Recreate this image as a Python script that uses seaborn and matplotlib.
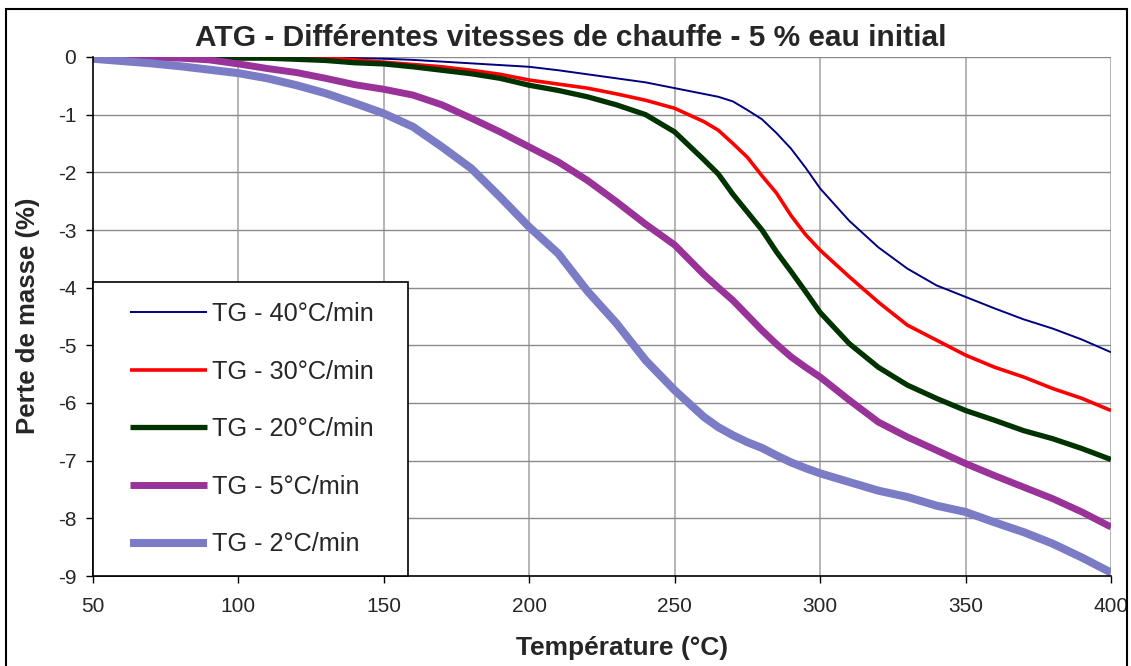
import numpy as np
import pandas as pd
import matplotlib
matplotlib.use("Agg")
import matplotlib.pyplot as plt
from matplotlib.patches import Rectangle
import seaborn as sns

# temperature grid (°C), finer around the knee
temperature = [50, 60, 70, 80, 90, 100, 110, 120, 130, 140, 150, 160, 170, 180,
               190, 200, 210, 220, 230, 240, 250, 260, 265, 270, 275, 280, 285,
               290, 295, 300, 310, 320, 330, 340, 350, 360, 370, 380, 390, 400]

# mass loss (%)
tg_40 = [0, 0, 0, 0, 0, 0, 0, -0.01, -0.01, -0.02, -0.03, -0.05, -0.08, -0.11,
         -0.14, -0.17, -0.23, -0.30, -0.37, -0.44, -0.54, -0.64, -0.69, -0.77,
         -0.92, -1.08, -1.32, -1.59, -1.92, -2.28, -2.84, -3.30, -3.67, -3.96,
         -4.16, -4.36, -4.55, -4.71, -4.90, -5.12]
tg_30 = [0, 0, 0, 0, 0, 0, 0, 0, -0.01, -0.05, -0.09, -0.13, -0.17, -0.23,
         -0.30, -0.40, -0.47, -0.54, -0.64, -0.75, -0.89, -1.12, -1.27, -1.50,
         -1.74, -2.06, -2.36, -2.75, -3.08, -3.35, -3.81, -4.25, -4.65, -4.91,
         -5.17, -5.38, -5.55, -5.75, -5.92, -6.13]
tg_20 = [0, 0, 0, 0, -0.01, -0.02, -0.02, -0.04, -0.06, -0.10, -0.12, -0.17,
         -0.23, -0.29, -0.37, -0.49, -0.58, -0.69, -0.83, -1.00, -1.30, -1.78,
         -2.03, -2.38, -2.69, -3.00, -3.38, -3.72, -4.07, -4.43, -4.97, -5.38,
         -5.69, -5.92, -6.13, -6.30, -6.48, -6.62, -6.79, -6.98]
tg_5 = [0, 0, -0.01, -0.02, -0.05, -0.12, -0.20, -0.27, -0.37, -0.48, -0.56,
        -0.66, -0.83, -1.06, -1.30, -1.56, -1.82, -2.14, -2.51, -2.90, -3.26,
        -3.77, -4.00, -4.22, -4.48, -4.74, -4.98, -5.20, -5.38, -5.55, -5.95,
        -6.33, -6.59, -6.82, -7.05, -7.26, -7.46, -7.66, -7.89, -8.15]
tg_2 = [-0.03, -0.07, -0.11, -0.16, -0.22, -0.28, -0.37, -0.49, -0.63, -0.80,
        -0.98, -1.21, -1.56, -1.93, -2.43, -2.95, -3.41, -4.06, -4.62, -5.26,
        -5.78, -6.24, -6.42, -6.56, -6.68, -6.78, -6.91, -7.03, -7.13, -7.22,
        -7.37, -7.52, -7.63, -7.78, -7.89, -8.07, -8.24, -8.44, -8.68, -8.94]

labels = ["TG - 40°C/min", "TG - 30°C/min", "TG - 20°C/min",
          "TG - 5°C/min", "TG - 2°C/min"]
colors = ["#000080", "#ff0000", "#003300", "#993399", "#7b7bc6"]
widths = [1.4, 2.6, 3.8, 5.0, 5.8]

x_ticks = [50, 100, 150, 200, 250, 300, 350, 400]
y_ticks = [0, -1, -2, -3, -4, -5, -6, -7, -8, -9]

df = pd.DataFrame({"Température": temperature * 5,
                   "Perte": tg_40 + tg_30 + tg_20 + tg_5 + tg_2,
                   "serie": np.repeat(labels, len(temperature))})

sns.set_style("white")
plt.rcParams["font.family"] = ["Liberation Sans", "DejaVu Sans"]
plt.rcParams["axes.unicode_minus"] = False

W, H = 1131, 666
fig = plt.figure(figsize=(W / 100, H / 100), dpi=100)
ax = fig.add_axes([93 / W, 1 - 576 / H, (1111 - 93) / W, (576 - 57) / H])

for i, lab in enumerate(labels):
    sns.lineplot(data=df[df["serie"] == lab], x="Température", y="Perte",
                 color=colors[i], linewidth=widths[i], label=lab, ax=ax,
                 zorder=3 + i, solid_capstyle="butt")

ax.set_xlim(50, 400)
ax.set_ylim(-9, 0)
ax.set_xticks(x_ticks)
ax.set_yticks(y_ticks)
ax.set_xlabel("")
ax.set_ylabel("")

# excel-like grid
for t in x_ticks[1:]:
    ax.axvline(t, color="#b0b0b0", lw=1.3, zorder=1)
for v in y_ticks[:-1]:
    ax.axhline(v, color="#8a8a8a", lw=1.0, zorder=1)

for s in ["top", "right"]:
    ax.spines[s].set_visible(False)
for s in ["left", "bottom"]:
    ax.spines[s].set_color("black")
    ax.spines[s].set_linewidth(1.2)
    ax.spines[s].set_zorder(10)

ax.tick_params(axis="y", direction="out", length=5, width=1, pad=7,
               labelsize=15, left=True, color="black")
ax.tick_params(axis="x", direction="out", length=5, width=1, pad=10,
               labelsize=15, bottom=True, color="black")

# legend box
box = Rectangle((0, 0), (408 - 93) / 1018, (576 - 282) / 519,
                transform=ax.transAxes, facecolor="white", edgecolor="black",
                lw=1.2, zorder=20, clip_on=False)
ax.add_patch(box)
leg = ax.legend(loc="upper left", bbox_to_anchor=((130 - 93) / 1018, (576 - 302) / 519),
                frameon=False, fontsize=18.2, handlelength=3.05, handletextpad=0.2,
                labelspacing=1.33, borderpad=0, borderaxespad=0)
leg.set_zorder(21)

fig.text(571 / W, 1 - 38 / H, "ATG - Différentes vitesses de chauffe - 5 % eau initial",
         ha="center", va="center", fontsize=21.5, fontweight="bold")
fig.text(622 / W, 1 - 648 / H, "Température (°C)", ha="center", va="center",
         fontsize=19, fontweight="bold")
fig.text(28 / W, 1 - 316 / H, "Perte de masse (%)", ha="center", va="center",
         rotation=90, fontsize=18.5, fontweight="bold")

# outer frame of the chart
fig.patches.append(Rectangle((6 / W, -0.01), (1127 - 6) / W, 1.01 - 9 / H,
                             transform=fig.transFigure, fill=False,
                             edgecolor="black", lw=1.5))

fig.savefig("out.png", dpi=100)
